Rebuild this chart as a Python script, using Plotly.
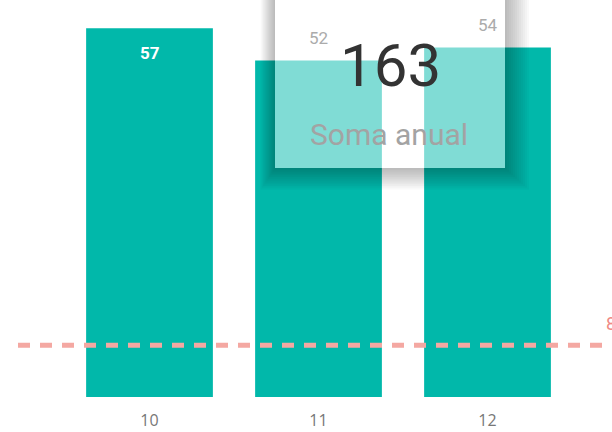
import plotly.graph_objects as go

categories = ["10", "11", "12"]
values = [57, 52, 54]
target = 8
total_label = "163"
card_caption = "Soma anual"

teal = "#01B8AA"
xs = list(range(len(categories)))

fig = go.Figure()
fig.add_trace(go.Bar(x=xs, y=values, marker_color=teal, marker_line_width=0,
                     width=0.75, hoverinfo="skip"))

# data label inside first bar
fig.add_annotation(x=xs[0], y=values[0], text=str(values[0]), showarrow=False, yshift=-25,
                   yanchor="middle",
                   font=dict(family="Roboto", size=17, color="white", weight="bold"))

# target dashed line
fig.add_shape(type="line", xref="paper", yref="y", x0=18/612, x1=1.0, y0=target, y1=target,
              line=dict(color="#F4A8A2", width=5, dash="12px,10px"), layer="above")
fig.add_annotation(xref="paper", yref="y", x=604/612, y=target, text=str(target),
                   xanchor="left", yanchor="middle", showarrow=False, yshift=22,
                   font=dict(family="Roboto", size=18, color="#F08A84"))

# card shadow (strips outside the card only)
cx0, cx1, cy0 = 275/612, 505/612, (397-168)/397
for k in range(1, 13):
    a = "rgba(0,0,0,0.024)"
    fig.add_shape(type="rect", xref="paper", yref="paper",
                  x0=cx0 - k*1.2/612, x1=cx1 + k*2.0/612, y0=cy0 - k*1.8/397, y1=cy0,
                  fillcolor=a, line_width=0, layer="above")
    fig.add_shape(type="rect", xref="paper", yref="paper",
                  x0=cx1, x1=cx1 + k*2.0/612, y0=cy0, y1=1.05,
                  fillcolor=a, line_width=0, layer="above")
    fig.add_shape(type="rect", xref="paper", yref="paper",
                  x0=cx0 - k*1.2/612, x1=cx0, y0=cy0, y1=1.05,
                  fillcolor=a, line_width=0, layer="above")
# card
fig.add_shape(type="rect", xref="paper", yref="paper", x0=cx0, x1=cx1, y0=cy0, y1=1.05,
              fillcolor="rgba(255,255,255,0.5)", line_width=0, layer="above")

# labels of bars 11 and 12 (outside end)
for i, v in enumerate(values):
    if i > 0:
        fig.add_annotation(x=xs[i], y=v, text=str(v), showarrow=False, yshift=23,
                           yanchor="middle",
                           font=dict(family="Roboto", size=17, color="#ABABAB"))

fig.add_annotation(xref="paper", yref="paper", x=391/612, y=(397-65)/397, text=total_label,
                   xanchor="center", yanchor="middle", showarrow=False,
                   font=dict(family="Roboto", size=60, color="#333333"))
fig.add_annotation(xref="paper", yref="paper", x=389/612, y=(397-134)/397, text=card_caption,
                   xanchor="center", yanchor="middle", showarrow=False,
                   font=dict(family="Roboto", size=30, color="#A3A3A3"))

fig.update_layout(
    width=612, height=432,
    margin=dict(l=0, r=0, t=0, b=35, autoexpand=False),
    paper_bgcolor="white", plot_bgcolor="white",
    showlegend=False,
    xaxis=dict(range=[-149.5/169, (612-149.5)/169], tickvals=xs, ticktext=categories,
               showgrid=False, zeroline=False, showline=False, ticks="outside",
               ticklen=9, tickcolor="rgba(0,0,0,0)",
               tickfont=dict(family="Open Sans", size=16, color="#777777")),
    yaxis=dict(range=[0, 397/6.47], visible=False, showgrid=False, zeroline=False),
)

fig.write_html("out.html", config={"displayModeBar": False},
               post_script="document.body.style.margin='0';")
